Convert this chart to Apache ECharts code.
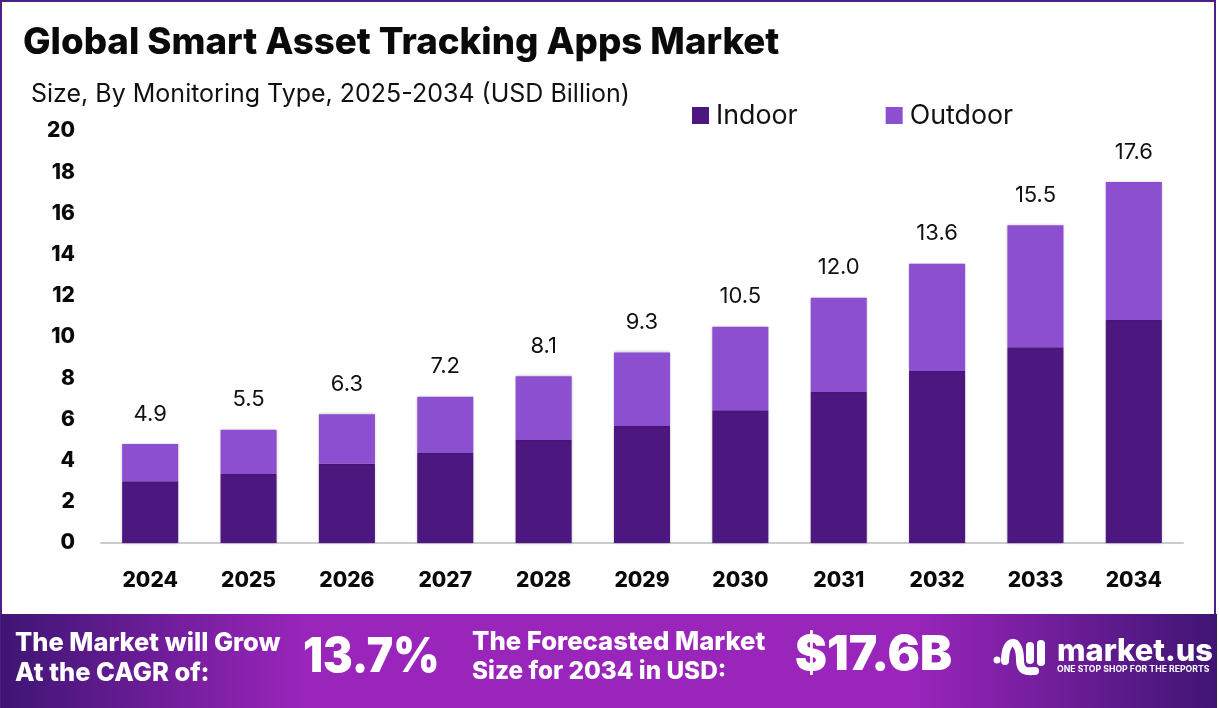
<!DOCTYPE html>
<html>
<head>
<meta charset="utf-8">
<style>
  html, body { margin: 0; padding: 0; background: #fff; }
  #main { width: 1219px; height: 708px; }
</style>
<script src="https://cdn.jsdelivr.net/npm/echarts@6/dist/echarts.min.js"></script>
</head>
<body>
<div id="main"></div>
<script>
const years = ['2024', '2025', '2026', '2027', '2028', '2029', '2030', '2031', '2032', '2033', '2034'];
const indoor = [3.0, 3.35, 3.85, 4.37, 5.0, 5.68, 6.45, 7.33, 8.35, 9.5, 10.82];
const outdoor = [1.8, 2.15, 2.4, 2.73, 3.1, 3.57, 4.05, 4.57, 5.2, 5.93, 6.7];
const totals = ['4.9', '5.5', '6.3', '7.2', '8.1', '9.3', '10.5', '12.0', '13.6', '15.5', '17.6'];

const FONT = 'Inter';
const DARK = '#4d1780';
const LIGHT = '#8c4fd0';

const myChart = echarts.init(document.getElementById('main'), null, { renderer: 'canvas' });

function bannerText(x, y, text, size, weight, shadow, scaleX) {
  const style = { x, y, text, fill: '#fff', font: `${weight} ${size}px ${FONT}`, textVerticalAlign: 'middle' };
  if (shadow) {
    style.shadowBlur = 6;
    style.shadowColor = 'rgba(40,0,70,.7)';
    style.shadowOffsetX = 3;
    style.shadowOffsetY = 3;
  }
  return { type: 'text', z: 12, style, scaleX: scaleX || 1, originX: x, originY: y };
}

const logoLine = { fill: 'none', stroke: '#fff', lineWidth: 8, lineCap: 'round' };

function logoCurve(x1, y1, cpx1, cpy1, cpx2, cpy2, x2, y2) {
  return { type: 'bezierCurve', z: 12, shape: { x1, y1, cpx1, cpy1, cpx2, cpy2, x2, y2 }, style: logoLine };
}

function logoBar(x, y1, y2) {
  return { type: 'line', z: 12, shape: { x1: x, y1, x2: x, y2 }, style: logoLine };
}

myChart.setOption({
  animation: false,
  title: [
    {
      text: 'Global Smart Asset Tracking Apps Market',
      left: 18, top: 19,
      textStyle: { fontFamily: FONT, fontSize: 36.65, fontWeight: 800, color: '#0a0a0a' }
    },
    {
      text: 'Size, By Monitoring Type, 2025-2034 (USD Billion)',
      left: 26, top: 77,
      textStyle: { fontFamily: FONT, fontSize: 25, fontWeight: 400, color: '#111' }
    }
  ],
  legend: {
    data: ['Indoor', 'Outdoor'],
    left: 687, top: 97,
    icon: 'rect',
    itemWidth: 17, itemHeight: 17,
    itemGap: 88,
    textStyle: { fontFamily: FONT, fontSize: 26.8, color: '#111', padding: [0, 0, 0, 2] }
  },
  grid: { left: 101, right: 36, top: 131, bottom: 165 },
  xAxis: {
    type: 'category',
    data: years,
    axisLine: { lineStyle: { color: '#ccc', width: 2 } },
    axisTick: { show: false },
    axisLabel: { color: '#0a0a0a', fontFamily: FONT, fontSize: 21, fontWeight: 800, margin: 27 }
  },
  yAxis: {
    type: 'value',
    min: 0,
    max: 20,
    interval: 2,
    axisLine: { show: false },
    axisTick: { show: false },
    splitLine: { show: false },
    axisLabel: { color: '#0a0a0a', fontFamily: FONT, fontSize: 21, fontWeight: 800, margin: 26, padding: [4, 0, 0, 0] }
  },
  series: [
    {
      name: 'Indoor',
      type: 'bar',
      stack: 'total',
      barWidth: '57%',
      data: indoor,
      itemStyle: { color: DARK, shadowBlur: 3, shadowColor: 'rgba(0,0,0,.3)' }
    },
    {
      name: 'Outdoor',
      type: 'bar',
      stack: 'total',
      barWidth: '57%',
      data: outdoor,
      itemStyle: { color: LIGHT, shadowBlur: 3, shadowColor: 'rgba(0,0,0,.3)' },
      label: {
        show: true,
        position: 'top',
        distance: 19,
        fontFamily: FONT,
        fontSize: 22,
        color: '#111',
        formatter: (p) => totals[p.dataIndex]
      }
    }
  ],
  graphic: [
    {
      type: 'rect', z: 10,
      shape: { x: 1, y: 1, width: 1214, height: 706 },
      style: { fill: 'none', stroke: '#4d1f87', lineWidth: 2 }
    },
    {
      type: 'rect', z: 11,
      shape: { x: 1, y: 614, width: 1216, height: 94 },
      style: {
        fill: new echarts.graphic.LinearGradient(0, 0, 1, 0, [
          { offset: 0, color: '#3f1574' },
          { offset: 0.25, color: '#9a25bb' },
          { offset: 0.75, color: '#9a25bb' },
          { offset: 1, color: '#3f1574' }
        ])
      }
    },
    bannerText(15, 643, 'The Market will Grow', 25.5, 800),
    bannerText(15, 673, 'At the CAGR of:', 25.5, 800),
    bannerText(303, 658, '13.7%', 48, 900, true, 0.924),
    bannerText(472, 642, 'The Forecasted Market', 25.7, 800),
    bannerText(472, 672, 'Size for 2034 in USD:', 24.3, 800),
    bannerText(795, 656, '$17.6B', 48, 900, true),
    { type: 'circle', z: 12, shape: { cx: 997, cy: 660, r: 3.5 }, style: { fill: '#fff' } },
    logoCurve(1005, 661, 1005, 637, 1020, 637, 1020, 660),
    logoCurve(1020, 660, 1020, 674, 1030, 671, 1035, 671),
    logoBar(1030, 646, 660),
    logoBar(1041, 644, 662),
    bannerText(1057, 652, 'market.us', 30.8, 800),
    bannerText(1057, 669, 'ONE STOP SHOP FOR THE REPORTS', 8.7, 700)
  ]
});
</script>
</body>
</html>
